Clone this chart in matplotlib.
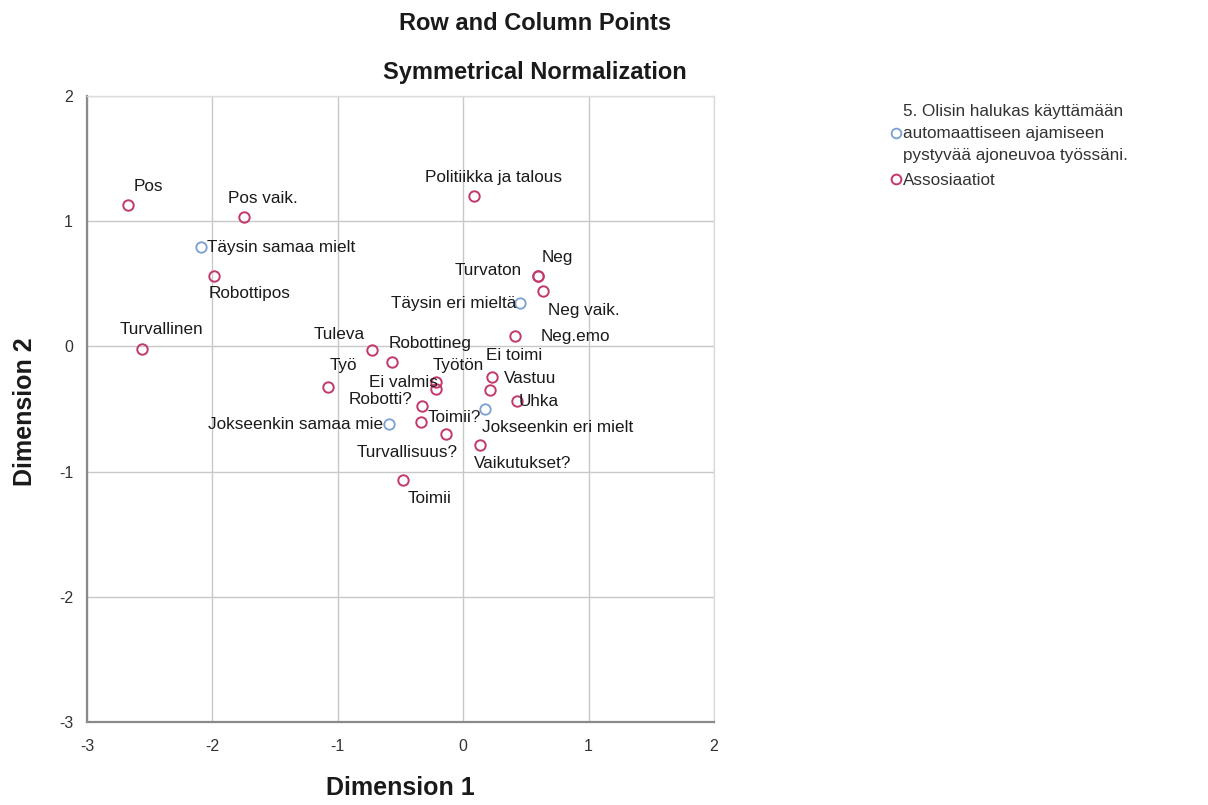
import matplotlib
matplotlib.use("Agg")
import matplotlib.pyplot as plt
from matplotlib.lines import Line2D

plt.rcParams['font.family'] = ['Liberation Sans', 'DejaVu Sans']
plt.rcParams['axes.unicode_minus'] = False

# Row points: answer categories (blue)
row_labels = ["Täysin samaa mielt", "Jokseenkin samaa mie", "Jokseenkin eri mielt", "Täysin eri mieltä"]
row_x = [-2.09, -0.59, 0.175, 0.455]
row_y = [0.79, -0.62, -0.50, 0.346]

# Column points: associations (pink)
col_labels = ["Pos", "Pos vaik.", "Robottipos", "Turvallinen", "Tuleva", "Robottineg",
              "Työ", "Ei valmis", "Työtön", "Ei toimi", "Vastuu", "Uhka", "Robotti?",
              "Toimii?", "Turvallisuus?", "Vaikutukset?", "Toimii", "Politiikka ja talous",
              "Neg", "Turvaton", "Neg vaik.", "Neg.emo"]
col_x = [-2.67, -1.75, -1.99, -2.56, -0.73, -0.57,
         -1.08, -0.22, -0.22, 0.23, 0.215, 0.43, -0.33,
         -0.34, -0.14, 0.13, -0.48, 0.09,
         0.595, 0.595, 0.64, 0.41]
col_y = [1.126, 1.03, 0.565, -0.02, -0.03, -0.125,
         -0.325, -0.285, -0.34, -0.245, -0.35, -0.44, -0.48,
         -0.60, -0.70, -0.79, -1.07, 1.198,
         0.56, 0.56, 0.44, 0.08]

# label placement (offset in pixels, horizontal alignment)
row_offsets = {
    "Täysin samaa mielt": (6, 0, "left"),
    "Jokseenkin samaa mie": (-6, 0, "right"),
    "Jokseenkin eri mielt": (-3, -19, "left"),
    "Täysin eri mieltä": (-4, 0, "right"),
}
col_offsets = {
    "Pos": (5, 19, "left"),
    "Pos vaik.": (-16, 19, "left"),
    "Robottipos": (-5, -18, "left"),
    "Turvallinen": (-23, 19, "left"),
    "Tuleva": (-7, 16, "right"),
    "Robottineg": (-3, 19, "left"),
    "Työ": (2, 22, "left"),
    "Ei valmis": (2, 0, "right"),
    "Työtön": (-3, 23, "left"),
    "Ei toimi": (-6, 22, "left"),
    "Vastuu": (14, 12, "left"),
    "Uhka": (2, 0, "left"),
    "Robotti?": (-9, 7, "right"),
    "Toimii?": (7, 4, "left"),
    "Turvallisuus?": (12, -18, "right"),
    "Vaikutukset?": (-6, -18, "left"),
    "Toimii": (5, -18, "left"),
    "Politiikka ja talous": (-49, 19, "left"),
    "Neg": (4, 19, "left"),
    "Turvaton": (-16, 6, "right"),
    "Neg vaik.": (5, -19, "left"),
    "Neg.emo": (26, 0, "left"),
}

blue = "#7a9fd2"
pink = "#c2386e"
label_size = 12.3

fig = plt.figure(figsize=(12.08, 8.05), dpi=100)
ax = fig.add_axes([87 / 1208, 1 - 722 / 805, 627 / 1208, 626 / 805])

ax.plot(row_x, row_y, "o", ms=7.5, mfc="none", mec=blue, mew=1.3, zorder=3)
ax.plot(col_x, col_y, "o", ms=7.5, mfc="none", mec=pink, mew=1.4, zorder=4)

for lab, x, y in zip(row_labels, row_x, row_y):
    dx, dy, ha = row_offsets[lab]
    ax.annotate(lab, (x, y), xytext=(dx, dy), textcoords="offset pixels",
                ha=ha, va="center", fontsize=label_size, color="#1a1a1a", zorder=5)
for lab, x, y in zip(col_labels, col_x, col_y):
    dx, dy, ha = col_offsets[lab]
    ax.annotate(lab, (x, y), xytext=(dx, dy), textcoords="offset pixels",
                ha=ha, va="center", fontsize=label_size, color="#1a1a1a", zorder=5)

ax.set_xlim(-3, 2)
ax.set_ylim(-3, 2)
ax.set_xticks([-3, -2, -1, 0, 1, 2])
ax.set_yticks([-3, -2, -1, 0, 1, 2])
ax.grid(True, color="#c8c8c8", lw=1.0)
ax.set_axisbelow(True)
ax.tick_params(length=0, labelsize=11.5, colors="#333333")
ax.tick_params(axis="x", pad=12)
ax.tick_params(axis="y", pad=10)
for s in ["left", "bottom"]:
    ax.spines[s].set_color("#8a8a8a")
    ax.spines[s].set_linewidth(1.6)
for s in ["top", "right"]:
    ax.spines[s].set_color("#dcdcdc")
    ax.spines[s].set_linewidth(1.0)

fig.text(535 / 1208, 1 - 23 / 805, "Row and Column Points", ha="center", va="center",
         fontsize=17, fontweight="bold", color="#1a1a1a")
fig.text(535 / 1208, 1 - 73 / 805, "Symmetrical Normalization", ha="center", va="center",
         fontsize=17, fontweight="bold", color="#1a1a1a")
fig.text(400 / 1208, 1 - 788 / 805, "Dimension 1", ha="center", va="center",
         fontsize=18, fontweight="bold", color="#1a1a1a")
fig.text(25 / 1208, 1 - 412 / 805, "Dimension 2", ha="center", va="center",
         fontsize=18, fontweight="bold", rotation=90, color="#1a1a1a")

handles = [
    Line2D([], [], ls="none", marker="o", ms=7, mfc="none", mec=blue, mew=1.3),
    Line2D([], [], ls="none", marker="o", ms=7, mfc="none", mec=pink, mew=1.4),
]
leg = fig.legend(handles, ["5. Olisin halukas käyttämään\nautomaattiseen ajamiseen\npystyvää ajoneuvoa työssäni.",
                           "Assosiaatiot"],
                 loc="upper left", bbox_to_anchor=(882 / 1208, 1 - 95 / 805), frameon=False,
                 fontsize=12.3, handlelength=0.6, handletextpad=0.15, labelspacing=0.6,
                 borderpad=0, labelcolor="#333333")
for t in leg.get_texts():
    t.set_linespacing(1.6)

fig.savefig("out.png", dpi=100)
